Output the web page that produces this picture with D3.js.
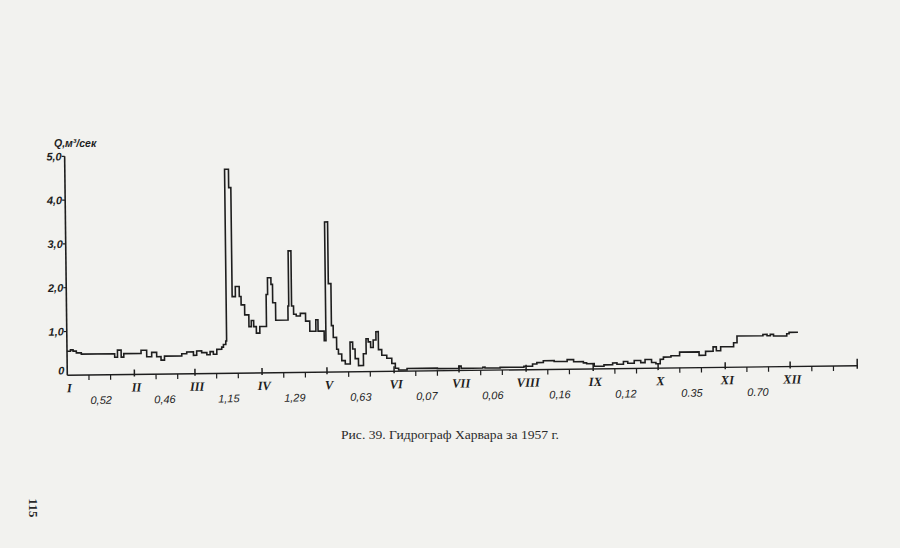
<!DOCTYPE html>
<html><head><meta charset="utf-8">
<script src="https://cdn.jsdelivr.net/npm/d3@7"></script>
<style>html,body{margin:0;padding:0;background:#f2f2ef;}svg{display:block;}</style>
</head><body>
<svg id="chart" width="900" height="548"></svg>
<script>
// ---- data ----
const monthNames = ["I","II","III","IV","V","VI","VII","VIII","IX","X","XI","XII"];
const monthStartDays = [0,31,59,90,120,151,181,212,243,273,304,334];
const monthMeanLabels = ["0,52","0,46","1,15","1,29","0,63","0,07","0,06","0,16","0,12","0.35","0.70",""];
const yearDays = 365;
const yTickValues = [0,1,2,3,4,5];
const yTickLabels = ["0","1,0","2,0","3,0","4,0","5,0"];
const yTitle = "Q,м³/сек";
const caption = "Рис. 39. Гидрограф Харвара за 1957 г.";
const pageNumber = "115";

// daily discharge hydrograph, as steps: day of year where a value begins, and Q (m³/s)
const stepDays = [0,1.6,2.8,4.3,6.6,22,23.3,25,26.2,34.2,36.8,39.1,41.4,43.4,45,53,55.3,58.4,59.9,62.2,64.6,66.1,67.6,69.2,71.5,72.3,73.4,
  73.8,75.6,76.6,78.1,79.9,80.7,82.3,84.2,85.3,86.4,87.6,89.2,92.3,93,94.6,95.3,96.6,102.3,102.7,104,104.9,106.1,108,110.4,112.3,115.1,116.1,118.9,
  119.7,121.1,122.3,123.1,124.6,125.4,126.9,128.5,130.8,132,133.1,134.6,136.9,138.2,139.2,140.3,141.5,142.8,143.9,145.4,147.7,150,151.6,153.1,
  157,171,181,182,192,193,200,211,215,217,220,225,231,234,238.5,240,243.5,248,252,254,257,259,262,265,267,270,272,274,275.5,279,283,292,295,298.5,
  300,302,308,309.6,321.6,323.5,325,326.5,332.6,333.7];
const stepQ = [0.55,0.58,0.55,0.51,0.48,0.40,0.56,0.40,0.48,0.55,0.40,0.50,0.40,0.32,0.41,0.46,0.50,0.42,0.52,0.48,0.43,0.50,0.44,0.55,0.60,0.66,0.74,
  4.66,4.24,1.75,1.98,1.75,1.56,1.33,1.06,1.20,1.06,0.91,1.06,1.79,2.17,2.02,1.60,1.20,1.52,2.78,1.52,1.33,1.29,1.35,1.17,0.94,1.20,0.94,0.72,
  3.43,2.02,1.06,0.79,0.52,0.41,0.26,0.18,0.68,0.52,0.30,0.14,0.41,0.75,0.68,0.55,0.72,0.91,0.50,0.37,0.30,0.18,0.07,0.03,
  0.06,0.05,0.10,0.05,0.07,0.05,0.06,0.08,0.13,0.16,0.20,0.18,0.22,0.17,0.14,0.12,0.06,0.09,0.13,0.10,0.16,0.12,0.18,0.13,0.20,0.13,0.10,0.20,0.25,0.28,0.36,0.28,0.37,
  0.47,0.38,0.47,0.56,0.71,0.74,0.71,0.74,0.70,0.75,0.78];
const lastDay = 337.8;

// ---- layout ----
const svg = d3.select("#chart");
const ox = 67.3, oy = 375.3;
const tilt = -0.696; // the printed page is slightly rotated
const x = d3.scaleLinear().domain([0, yearDays]).range([ox, ox + 790]);
const y = d3.scaleLinear().domain([0, 5]).range([oy, oy - 219]);
const ink = "#1e1e1e";

const g = svg.append("g").attr("transform", `rotate(${tilt},${ox},${oy})`);

// x axis line
g.append("line").attr("x1", x(0)).attr("x2", x(yearDays)).attr("y1", oy).attr("y2", oy)
  .attr("stroke", ink).attr("stroke-width", 1.4);
// y axis line
g.append("line").attr("x1", ox).attr("x2", ox).attr("y1", y(0)).attr("y2", y(5))
  .attr("stroke", ink).attr("stroke-width", 1.6);

// decade ticks (10th and 20th of each month)
const decadeDays = [];
monthStartDays.forEach(d => { decadeDays.push(d + 10, d + 20); });
g.selectAll("line.dec").data(decadeDays).join("line").attr("class","dec")
  .attr("x1", d => x(d)).attr("x2", d => x(d)).attr("y1", oy).attr("y2", oy + 5)
  .attr("stroke", ink).attr("stroke-width", 1.2);
// month ticks
g.selectAll("line.mon").data(monthStartDays.slice(1).concat([yearDays])).join("line").attr("class","mon")
  .attr("x1", d => x(d)).attr("x2", d => x(d))
  .attr("y1", d => d === yearDays ? oy - 7 : oy - 5).attr("y2", d => d === yearDays ? oy + 3 : oy + 2)
  .attr("stroke", ink).attr("stroke-width", 1.5);

// month roman numerals
g.selectAll("text.mon").data(monthNames).join("text").attr("class","mon")
  .attr("x", (d, i) => x(monthStartDays[i]) + 2).attr("y", oy + 17)
  .attr("text-anchor", "middle")
  .attr("font-family", "'Liberation Serif', 'DejaVu Serif', serif")
  .attr("font-style", "italic").attr("font-weight", "bold").attr("font-size", 12.5)
  .attr("fill", ink).text(d => d);

// monthly mean discharge labels
g.selectAll("text.mean").data(monthMeanLabels).join("text").attr("class","mean")
  .attr("x", (d, i) => {
    const s = monthStartDays[i], e = i < 11 ? monthStartDays[i + 1] : yearDays;
    return x((s + e) / 2);
  })
  .attr("y", oy + 29)
  .attr("text-anchor", "middle")
  .attr("font-family", "'Liberation Sans', Arial, sans-serif")
  .attr("font-style", "italic").attr("font-size", 11)
  .attr("fill", ink).text(d => d);

// y ticks and labels
g.selectAll("line.yt").data(yTickValues.slice(1)).join("line").attr("class","yt")
  .attr("x1", ox - 3).attr("x2", ox).attr("y1", d => y(d)).attr("y2", d => y(d))
  .attr("stroke", ink).attr("stroke-width", 1.2);
g.selectAll("text.yl").data(yTickValues).join("text").attr("class","yl")
  .attr("x", ox - 3).attr("y", d => y(d) + (d === 0 ? -1 : 4))
  .attr("text-anchor", "end")
  .attr("font-family", "'Liberation Sans', Arial, sans-serif")
  .attr("font-style", "italic").attr("font-weight", "bold").attr("font-size", 11)
  .attr("fill", ink).text((d, i) => yTickLabels[i]);

// hydrograph
const pts = stepDays.map((d, i) => [d, stepQ[i]]);
pts.push([lastDay, stepQ[stepQ.length - 1]]);
const line = d3.line().x(p => x(p[0])).y(p => y(p[1])).curve(d3.curveStepAfter);
g.append("path").datum(pts).attr("d", line)
  .attr("fill", "none").attr("stroke", ink).attr("stroke-width", 1.6)
  .attr("stroke-linejoin", "miter");

// y axis title
svg.append("text").attr("x", 54).attr("y", 147)
  .attr("font-family", "'Liberation Sans', Arial, sans-serif")
  .attr("font-style", "italic").attr("font-weight", "bold").attr("font-size", 10.5)
  .attr("fill", ink).text(yTitle);

// caption
svg.append("text").attr("x", 341).attr("y", 438.5)
  .attr("font-family", "'Liberation Serif', 'DejaVu Serif', serif")
  .attr("font-size", 11.5).attr("fill", "#2a2a2a")
  .attr("textLength", 218).attr("lengthAdjust", "spacingAndGlyphs")
  .text(caption);

// page number (rotated)
svg.append("text").attr("transform", "translate(29,508) rotate(90)")
  .attr("text-anchor", "middle")
  .attr("font-family", "'Liberation Serif', 'DejaVu Serif', serif")
  .attr("font-weight", "bold").attr("font-size", 13).attr("fill", "#2a2a2a")
  .text(pageNumber);
</script>
</body></html>
